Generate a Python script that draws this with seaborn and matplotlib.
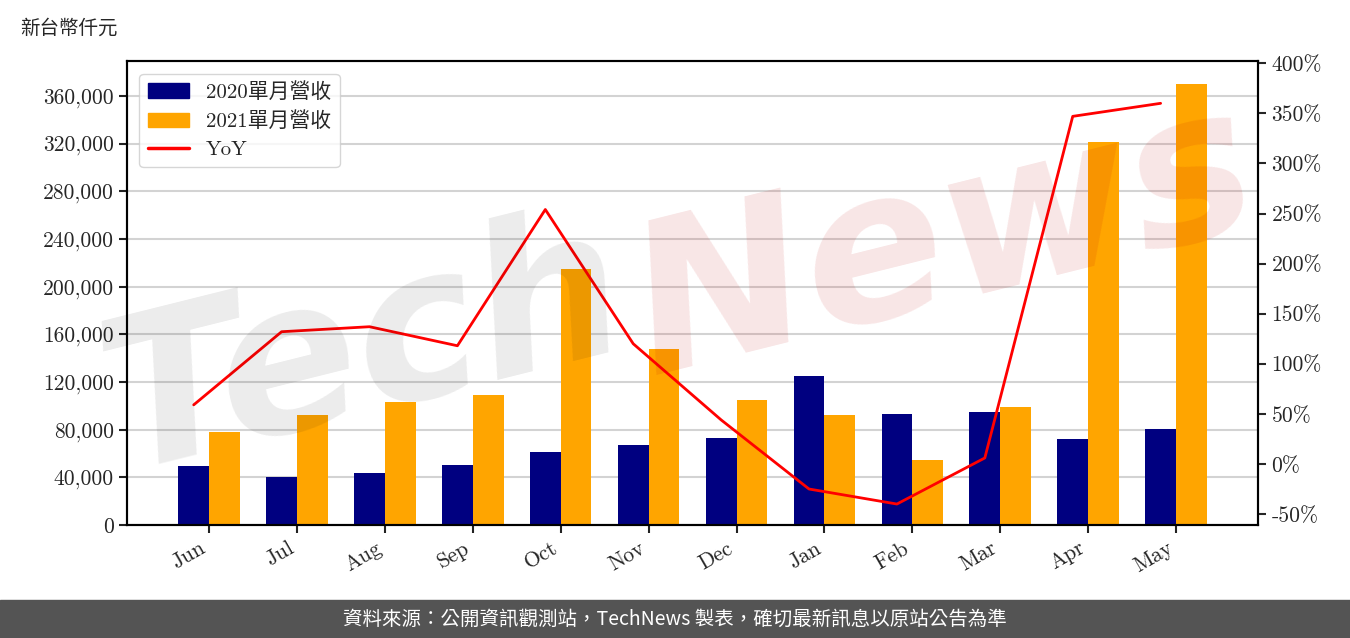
import numpy as np
import pandas as pd
import seaborn as sns
import matplotlib.pyplot as plt
from matplotlib.patches import Patch
from matplotlib.lines import Line2D
from matplotlib.ticker import FuncFormatter, MultipleLocator

months = ["Jun", "Jul", "Aug", "Sep", "Oct", "Nov", "Dec", "Jan", "Feb", "Mar", "Apr", "May"]
rev_2020 = [49500, 40300, 43600, 50400, 61300, 67100, 73000, 125000, 93200, 94800, 72200, 80600]
rev_2021 = [78000, 92300, 103200, 109100, 214800, 147700, 104900, 92300, 54500, 99000, 321400, 370100]
yoy = [59, 132, 137, 118, 254, 120, 44, -25, -40, 6, 347, 360]

label_2020 = "2020單月營收"
label_2021 = "2021單月營收"

df = pd.DataFrame({
    "month": months * 2,
    "revenue": rev_2020 + rev_2021,
    "series": [label_2020] * 12 + [label_2021] * 12,
})

sns.set_style("ticks")
plt.rcParams["font.family"] = ["cmr10", "Noto Sans CJK TC"]
plt.rcParams["axes.formatter.use_mathtext"] = False

fig = plt.figure(figsize=(13.5, 6.38), dpi=100)
ax = fig.add_axes([0.094, 0.177, 0.838, 0.727])

colors = {label_2020: "#000080", label_2021: "#FFA500"}
sns.barplot(data=df, x="month", y="revenue", hue="series", palette=colors,
            width=0.7, saturation=1, linewidth=0, ax=ax, legend=False)

ax.set_xlim(-0.935, 11.935)
ax.set_ylim(0, 389000)
ax.yaxis.set_major_locator(MultipleLocator(40000))
ax.yaxis.set_major_formatter(FuncFormatter(lambda v, p: f"{v:,.0f}"))
ax.set_xlabel("")
ax.set_ylabel("")
ax.set_axisbelow(True)
ax.yaxis.grid(True, color="#d3d3d3", lw=1.5)
ax.tick_params(axis="both", labelsize=15.5, width=1.5, length=6, color="#222222")
plt.setp(ax.get_xticklabels(), rotation=30, ha="right")
for s in ax.spines.values():
    s.set_visible(True)
    s.set_linewidth(1.5)
    s.set_color("black")

ax2 = ax.twinx()
sns.lineplot(x=np.arange(len(months)) - 0.175, y=yoy, color="red", lw=2, ax=ax2)
ax2.set_ylim(-61, 402)
ax2.yaxis.set_major_locator(MultipleLocator(50))
ax2.yaxis.set_major_formatter(FuncFormatter(lambda v, p: f"{v:.0f}%"))
ax2.tick_params(axis="y", labelsize=15.5, width=1.5, length=6)
for s in ax2.spines.values():
    s.set_linewidth(1.5)
    s.set_color("black")

handles = [Patch(color=colors[label_2020], label=label_2020),
           Patch(color=colors[label_2021], label=label_2021),
           Line2D([0], [0], color="red", lw=2.5, label="YoY")]
ax2.legend(handles=handles, loc="upper left", fontsize=15, frameon=True,
           edgecolor="#cccccc", handlelength=2, handletextpad=0.8,
           borderaxespad=0.6, labelspacing=0.45)

fig.text(0.015, 0.956, "新台幣仟元", fontsize=14, va="center",
         family=["Noto Sans CJK TC"])

fig.text(0.27, 0.45, "Tech", fontsize=150, color="black", alpha=0.08,
         rotation=14, ha="center", va="center", style="italic", weight="bold",
         family=["DejaVu Sans"])
fig.text(0.70, 0.62, "News", fontsize=150, color="#c00000", alpha=0.1,
         rotation=14, ha="center", va="center", style="italic", weight="bold",
         family=["DejaVu Sans"])

fig.patches.append(plt.Rectangle((0, 0), 1, 38 / 638, transform=fig.transFigure,
                                 color="#545454", zorder=0))
fig.text(0.5, 0.03, "資料來源：公開資訊觀測站，TechNews 製表，確切最新訊息以原站公告為準",
         color="white", fontsize=14, ha="center", va="center",
         family=["Noto Sans CJK TC"])

fig.savefig("out.png", dpi=100)
